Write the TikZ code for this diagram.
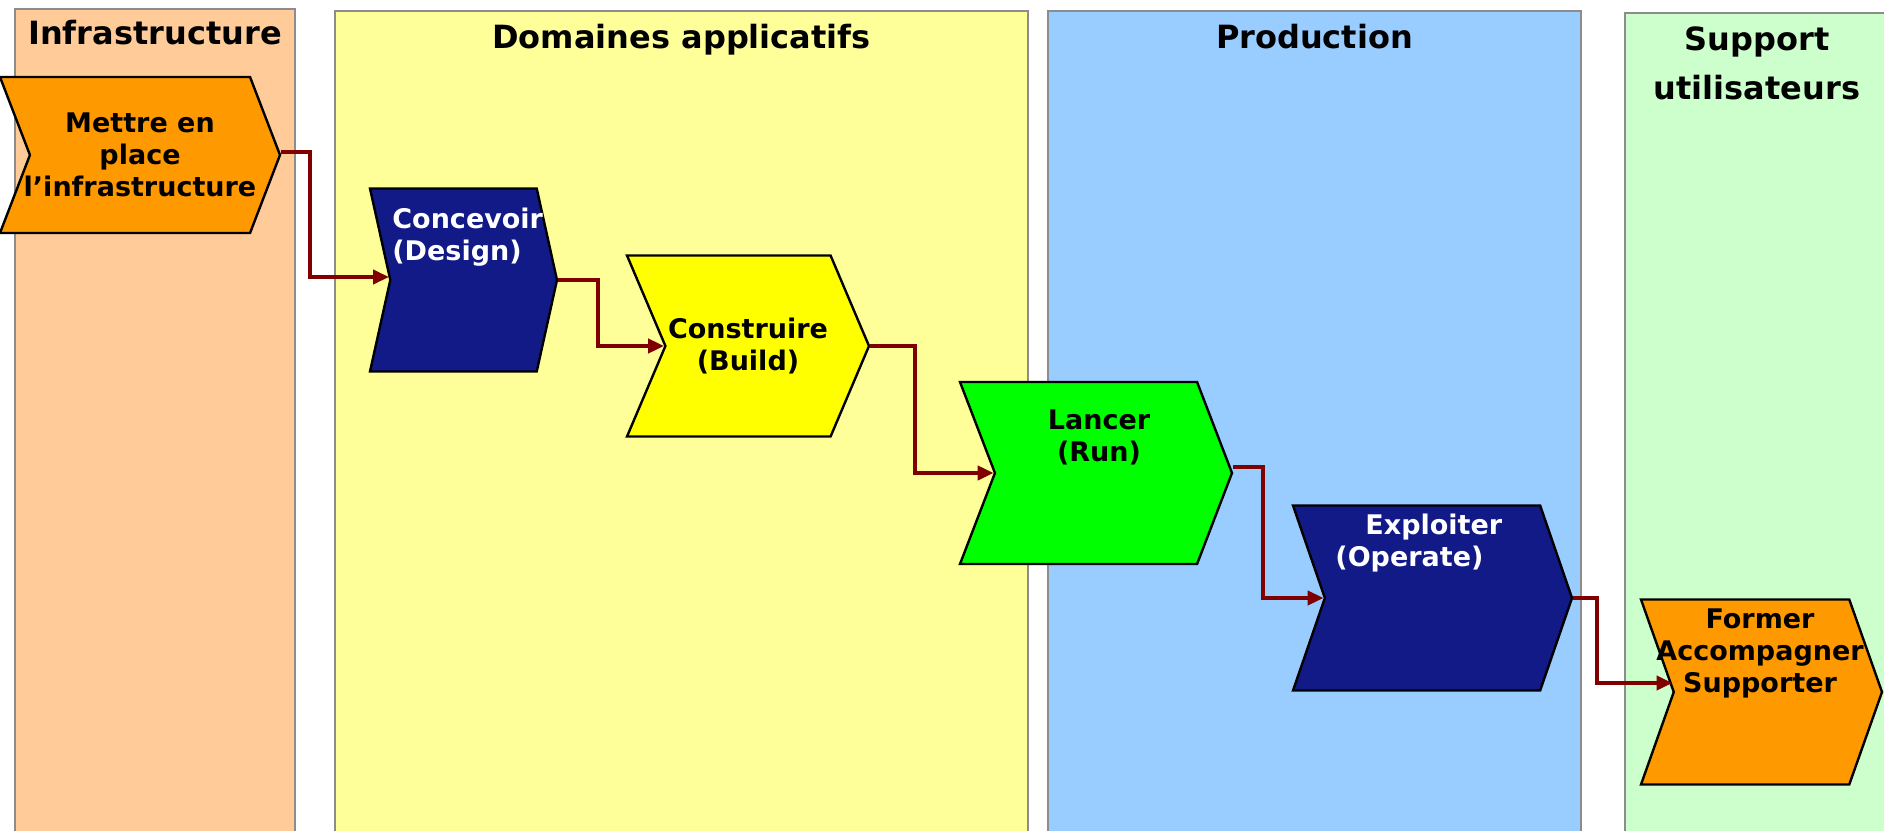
\documentclass[tikz,border=0pt]{standalone}
\usepackage{fontspec}
\setmainfont{DejaVu Sans}
\usetikzlibrary{positioning, shapes.symbols, arrows.meta}

\definecolor{infrafill}{HTML}{FFCC99}
\definecolor{domfill}{HTML}{FFFF99}
\definecolor{prodfill}{HTML}{99CCFF}
\definecolor{suppfill}{HTML}{CCFFCC}
\definecolor{lanegray}{HTML}{8C8C8C}
\definecolor{orangestep}{HTML}{FF9900}
\definecolor{navystep}{HTML}{121A87}
\definecolor{yellowstep}{HTML}{FFFF00}
\definecolor{greenstep}{HTML}{00FF00}
\definecolor{flowred}{HTML}{800000}

\begin{document}
\begin{tikzpicture}[x=0.5pt, y=-0.5pt, node distance=10pt,
    lane/.style={draw=lanegray, line width=1pt, rectangle, anchor=north west, inner sep=0pt, minimum height=420pt},
    lanetitle/.style={font=\bfseries\fontsize{16}{24.5}\selectfont, align=center, inner sep=0pt},
    stepbox/.style={shape=signal, signal from=west, signal to=east, draw=black, line width=1.2pt, inner sep=0pt, font=\bfseries\fontsize{13.5}{16}\selectfont, align=center},
    steptext/.style={font=\bfseries\fontsize{13.5}{16}\selectfont, inner sep=0pt},
    flow/.style={draw=flowred, line width=2pt, -{Triangle[length=8pt,width=7pt]}},
]
    \useasboundingbox (0,0) rectangle (1884,830);

    % lanes
    \node[lane, fill=infrafill, minimum width=140pt]  (infra) at (14,8)    {};
    \node[lane, fill=domfill,   minimum width=346.5pt] (dom)   at (334,10)  {};
    \node[lane, fill=prodfill,  minimum width=266.5pt] (prod)  at (1047,10) {};
    \node[lane, fill=suppfill,  minimum width=132pt]  (supp)  at (1624,12) {};

    \node[lanetitle, below=6pt of infra.north] (infra title) {Infrastructure};
    \node[lanetitle, below=7pt of dom.north]   (dom title)   {Domaines applicatifs};
    \node[lanetitle, below=7pt of prod.north]  (prod title)  {Production};
    \node[lanetitle, below=7pt of supp.north]  (supp title)  {Support\\utilisateurs};

    % steps
    \node[stepbox, fill=orangestep, signal pointer angle=138, minimum width=140pt, minimum height=78pt, inner xsep=-20pt]
        (mettre) at (140,155) {Mettre en\\place\\l’infrastructure};
    \node[stepbox, fill=navystep, signal pointer angle=155, minimum width=93.5pt, minimum height=91.5pt]
        (concevoir) at (463.5,280) {};
    \node[stepbox, fill=yellowstep, signal pointer angle=134, minimum width=121pt, minimum height=90.5pt]
        (construire) at (748,346) {Construire\\(Build)};
    \node[stepbox, fill=greenstep, signal pointer angle=138, minimum width=136pt, minimum height=91pt]
        (lancer) at (1096,473) {};
    \node[stepbox, fill=navystep, signal pointer angle=142, minimum width=139.5pt, minimum height=92.5pt]
        (exploiter) at (1432.5,598) {};
    \node[stepbox, fill=orangestep, signal pointer angle=141, minimum width=120.5pt, minimum height=92.5pt]
        (former) at (1761.5,692) {};

    \node[steptext, text=white, align=left, anchor=west] (concevoir text) at (392,237) {Concevoir\\(Design)};
    \node[steptext, align=center] (lancer text) at (1099,437) {Lancer\\(Run)};
    \node[steptext, text=white, align=left, anchor=west] (exploiter text) at (1335,543) {\hspace*{15pt}Exploiter\\(Operate)};
    \node[steptext, align=center] (former text) at (1760,653) {Former\\Accompagner\\Supporter};

    % flow
    \draw[flow] ([yshift=1.5pt]mettre.east) -- ++(29,0) |- ([yshift=1.5pt]concevoir.west);
    \draw[flow] (concevoir.east)  -- ++(40,0) |- (construire.west);
    \draw[flow] (construire.east) -- ++(45,0) |- (lancer.west);
    \draw[flow] ([yshift=3pt]lancer.east) -- ++(30,0) |- (exploiter.west);
    \draw[flow] (exploiter.east)  -- ++(24,0) |- ([yshift=4.5pt]former.west);
\end{tikzpicture}
\end{document}
